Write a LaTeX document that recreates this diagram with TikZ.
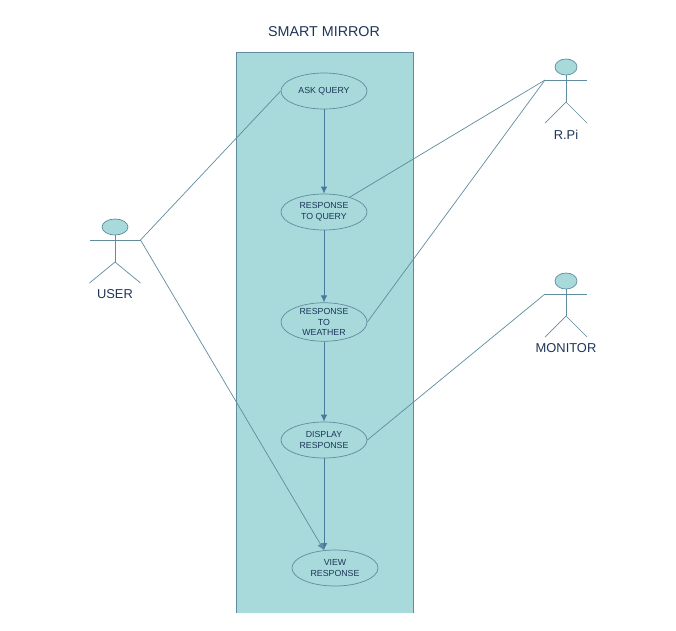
\documentclass[tikz,border=0pt]{standalone}
\usepackage{fontspec}
\setmainfont{Liberation Sans}
\usetikzlibrary{shapes.geometric,arrows.meta}
\definecolor{boxfill}{HTML}{A8DADC}
\definecolor{linecol}{HTML}{457B9D}
\definecolor{softcol}{HTML}{5F8C9E}
\definecolor{textcol}{HTML}{1D3557}
\begin{document}
\begin{tikzpicture}[x=0.03cm,y=-0.03cm,
usecase/.style={ellipse,draw=softcol,line width=0.6pt,minimum width=2.58cm,minimum height=1.08cm,inner sep=0pt,
  align=center,text=textcol,font=\fontsize{7.5}{9}\selectfont},
head/.style={ellipse,draw=softcol,fill=boxfill,line width=0.6pt,inner sep=0pt,minimum height=0.48cm},
actorlabel/.style={text=textcol,font=\fontsize{11}{13}\selectfont},
flow/.style={draw=linecol,line width=0.7pt,-{Latex[length=6pt,width=5.5pt]}},
assoc/.style={draw=softcol,line width=0.6pt}]
\useasboundingbox (0,0) rectangle (676,630);
%\draw[help lines] (0,0) grid (676,630);
\fill[boxfill] (236,52) rectangle (413,613);
\draw[softcol,line width=0.6pt] (236,613) -- (236,52) -- (413,52) -- (413,613);
\node (title) at (324,31.5) [text=textcol,font=\fontsize{12.2}{14}\selectfont] {SMART MIRROR};
\node (ask) at (324,91) [usecase] {ASK QUERY};
\node (query) at (324,212) [usecase] {RESPONSE\\TO QUERY};
\node (weather) at (324,322) [usecase] {RESPONSE\\TO\\WEATHER};
\node (display) at (324,440) [usecase] {DISPLAY\\RESPONSE};
\node (view) at (335,568) [usecase] {VIEW\\RESPONSE};
% actors
\foreach \nm/\txt/\x/\y/\w/\r in {user/USER/115/227/25.5/13,rpi/R.Pi/566/67/21/11,monitor/MONITOR/566/281/21/11} {
  \node (\nm-head) at (\x,\y) [head,minimum width=\r*0.06cm] {};
  \coordinate (\nm-lhand) at (\x-\w,\y+13);
  \coordinate (\nm-rhand) at (\x+\w,\y+13);
  \coordinate (\nm-hip) at (\x,\y+35);
  \coordinate (\nm-lfoot) at (\x-\w,\y+56);
  \coordinate (\nm-rfoot) at (\x+\w,\y+56);
  \draw[assoc] (\nm-head) -- (\nm-hip);
  \draw[assoc] (\nm-lhand) -- (\nm-rhand);
  \draw[assoc] (\nm-lfoot) -- (\nm-hip) -- (\nm-rfoot);
  \node (\nm-label) at (\x,\y+67.5) [actorlabel] {\txt};
}
\draw[flow] (ask) -- (query);
\draw[flow] (query) -- (weather);
\draw[flow] (weather) -- (display);
\draw[flow] (display.south) -- (display.south |- view.120);
\draw[assoc] (user-rhand) -- (ask.west);
\draw[flow,draw=softcol,line width=0.6pt] (user-rhand) -- (display.south |- view.120);
\draw[assoc] (rpi-lhand) -- (query.30);
\draw[assoc] (rpi-lhand) -- (weather.east);
\draw[assoc] (monitor-lhand) -- (display.east);
\end{tikzpicture}
\end{document}
